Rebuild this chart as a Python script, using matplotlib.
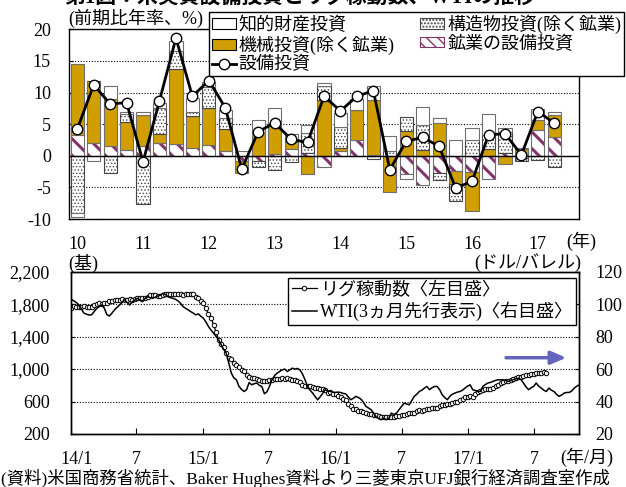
import numpy as np
import pandas as pd
import matplotlib
matplotlib.use("Agg")
import matplotlib.pyplot as plt
import matplotlib.transforms as mtransforms
from matplotlib.patches import Patch
from matplotlib.lines import Line2D

plt.rcParams['font.family'] = ['Liberation Serif', 'Noto Sans CJK JP']
plt.rcParams['font.size'] = 13
plt.rcParams['axes.unicode_minus'] = False

# ---- top panel: quarterly contributions (2010Q1 - 2017Q2), % q/q saar ----
year_labels = ['10', '11', '12', '13', '14', '15', '16', '17']
mining = [3.3, 2.0, 1.6, 0.85, 1.5, 2.0, 1.9, 1.2, 1.7, 0.8, -0.9, -0.9, 0.3, 1.1, 0.5,
          -1.7, 0.7, 2.5, 0.2, 0.0, -2.9, -4.7, -2.7, -2.4, -2.5, -3.7, 0.4, -0.3, 4.1, 2.9]
machinery = [11.2, 9.9, 7.4, 4.55, 4.9, 1.5, 11.8, 5.1, 5.9, 3.4, -1.8, 3.6, 4.9, 1.1, -2.85,
             8.8, 0.5, 4.8, 8.6, -5.8, 3.95, 0.9, 5.15, -2.1, -6.3, 1.05, -1.3, 1.05, 1.5, 3.6]
structures = [-9.05, 0.0, -2.7, 1.2, -7.6, 4.0, 2.9, 0.6, 3.3, 1.85, 0.0, -0.95, -2.3, -1.05, 3.1,
              2.2, 3.4, 0.0, -0.45, 0.8, 2.25, 4.0, -1.2, -2.6, 2.5, 2.3, 3.4, -0.5, -0.6, -1.7]
intellectual = [-0.65, -0.8, 2.05, 0.3, 0.5, 0.9, 1.6, 2.2, 0.7, 1.2, 0.7, 2.1, 2.4, 1.2, 1.3,
                0.5, 2.1, 1.65, 2.2, 2.3, -0.7, 2.8, 0.8, 2.5, 1.85, 3.3, 0.6, 0.15, 1.8, 0.4]
total_capex = [4.2, 11.2, 8.2, 8.4, -0.95, 8.7, 18.6, 9.4, 11.9, 7.6, -2.1, 3.8, 5.2, 2.6, 2.1,
               9.4, 7.1, 9.4, 10.3, -2.2, 2.3, 2.9, 1.5, -5.1, -4.05, 3.3, 3.5, 0.15, 7.0, 5.15]

# ---- bottom panel: weekly rig count (left) and WTI shifted 3 months (right) ----
rig_2014 = [1754, 1776, 1769, 1771, 1769, 1774, 1769, 1769, 1769, 1790, 1803, 1809, 1803,
            1809, 1818, 1835, 1835, 1857, 1857, 1855, 1860, 1855, 1857, 1859, 1857, 1860,
            1875, 1876, 1874, 1877, 1894, 1910, 1908, 1907, 1904, 1904, 1918, 1925, 1931,
            1930, 1925, 1928, 1925, 1924, 1918, 1925, 1927, 1929, 1920, 1893, 1875, 1840]
rig_2015 = [1811, 1750, 1676, 1633, 1543, 1456, 1358, 1310, 1267, 1192, 1140, 1125, 1069,
            1048, 1028, 988, 976, 932, 905, 894, 885, 875, 868, 859, 857, 859,
            863, 866, 872, 876, 874, 884, 883, 885, 877, 864, 862, 848, 838,
            809, 791, 787, 791, 775, 771, 770, 757, 760, 737, 709, 717, 698]
rig_2016 = [698, 664, 654, 637, 619, 571, 541, 514, 502, 489, 480, 476, 464,
            450, 443, 440, 431, 420, 415, 408, 406, 404, 408, 414, 421, 424,
            431, 440, 447, 462, 463, 464, 481, 491, 489, 497, 508, 511, 516, 522,
            524, 539, 553, 557, 569, 568, 588, 593, 597, 624, 637, 653, 658]
rig_2017 = [665, 659, 694, 712, 729, 741, 751, 754, 756, 768, 789, 809, 824,
            839, 847, 857, 870, 877, 885, 901, 908, 916, 927, 933, 941, 940,
            952, 952, 950, 958, 954]

wti_2014 = [103.0, 102.0, 101.0, 99.5, 97.0, 94.4, 93.8, 93.3, 93.5, 95.5, 97.4, 98.5, 99.5,
            97.5, 93.5, 92.7, 94.5, 96.5, 98.0, 99.5, 101.0, 102.6, 101.0, 99.5, 101.5, 102.5,
            103.6, 102.5, 101.5, 103.5, 104.6, 104.0, 103.6, 104.2, 105.0, 105.5, 106.7, 106.0,
            104.6, 104.0, 103.6, 103.0, 102.0, 100.5, 98.5, 97.4, 96.5, 95.4, 94.5, 93.4, 94.0,
            92.5]
wti_2015 = [91.3, 89.0, 86.2, 84.0, 82.1, 80.0, 78.0, 75.0, 72.0, 69.8, 63.7, 57.5, 54.5,
            53.4, 49.3, 47.5, 46.2, 47.3, 51.7, 50.3, 51.0, 51.4, 50.0, 49.3, 44.8, 46.0,
            49.3, 53.4, 56.0, 57.5, 58.5, 59.5, 60.0, 58.5, 59.5, 60.6, 60.0, 60.4, 59.5,
            57.0, 53.4, 49.3, 47.0, 45.2, 43.0, 41.1, 43.0, 45.2, 47.3, 46.5, 46.2, 45.8]
wti_2016 = [45.6, 45.8, 45.6, 45.0, 44.8, 43.0, 41.1, 42.0, 43.2, 42.5, 41.5, 39.5, 37.0,
            36.0, 35.0, 32.9, 30.5, 29.5, 28.8, 29.9, 28.8, 29.5, 32.9, 32.0, 32.9, 35.0,
            37.0, 39.0, 38.5, 38.0, 40.5, 43.2, 44.5, 46.2, 47.0, 48.3, 49.3, 47.3, 48.5, 49.3,
            49.3, 47.3, 44.2, 42.5, 41.1, 43.2, 44.5, 45.2, 45.8, 46.2, 47.0, 48.3, 49.5]
wti_2017 = [50.3, 47.3, 46.8, 46.2, 46.2, 49.3, 50.5, 51.4, 51.8, 52.4, 53.0, 53.4, 53.4,
            53.4, 53.0, 52.4, 53.0, 53.4, 54.0, 54.4, 53.5, 51.4, 49.0, 47.3, 48.5, 49.3,
            51.4, 49.5, 48.3, 47.0, 46.2, 48.3, 47.0, 46.2, 44.5, 43.2, 44.0, 45.2, 45.6,
            45.6, 46.5, 48.3, 49.5, 50.3]

month_ticks = ['2014-01-01', '2014-07-01', '2015-01-01', '2015-07-01',
               '2016-01-01', '2016-07-01', '2017-01-01', '2017-07-01']
month_labels = ['14/1', '7', '15/1', '7', '16/1', '7', '17/1', '7']

GOLD = '#D19E00'
PLUM = '#82346A'
EDGE = '#6E6E6E'

W, H = 626, 487
fig = plt.figure(figsize=(W / 100, H / 100), dpi=100)


def fx(px):
    return px / W


def fy(py):
    return 1 - py / H


# ================= top panel =================
ax1 = fig.add_axes([fx(69), fy(219), fx(579 - 69), (219 - 29.3) / H])
x = np.arange(len(total_capex))
pos = np.zeros(len(x))
neg = np.zeros(len(x))


def stacked(vals, **kw):
    global pos, neg
    vals = np.asarray(vals, dtype=float)
    bottom = np.where(vals >= 0, pos, neg)
    bars = ax1.bar(x, vals, bottom=bottom, width=0.8, zorder=3, **kw)
    pos = pos + np.clip(vals, 0, None)
    neg = neg + np.clip(vals, None, 0)
    return bars


# mining: hatch layer then an outline
m_vals = np.asarray(mining, dtype=float)
m_bottom = np.where(m_vals >= 0, pos, neg)
hb = ax1.bar(x, m_vals, bottom=m_bottom, width=0.8, facecolor='white', edgecolor=PLUM,
             hatch='\\\\', linewidth=0, zorder=3)
for p in hb:
    if hasattr(p, 'set_hatch_linewidth'):
        p.set_hatch_linewidth(2.2)
ax1.bar(x, m_vals, bottom=m_bottom, width=0.8, fill=False, edgecolor=EDGE, linewidth=0.8, zorder=3)
pos = pos + np.clip(m_vals, 0, None)
neg = neg + np.clip(m_vals, None, 0)

stacked(machinery, facecolor=GOLD, edgecolor=EDGE, linewidth=0.8)
sb = stacked(structures, facecolor='white', edgecolor='#444444', hatch='.....', linewidth=0.8)
for p in sb:
    if hasattr(p, 'set_hatch_linewidth'):
        p.set_hatch_linewidth(0.6)
stacked(intellectual, facecolor='white', edgecolor=EDGE, linewidth=0.8)

ax1.plot(x, total_capex, color='black', lw=2, marker='o', ms=7.5, mfc='white', mec='black',
         mew=1, zorder=5)
ax1.axhline(0, color='black', lw=1, zorder=4)

ax1.set_xlim(-0.5, 30.5)
ax1.set_ylim(-10, 20)
ax1.set_yticks(np.arange(-10, 21, 5))
ax1.yaxis.grid(True, linestyle=(0, (1, 1.5)), color='black', lw=0.8)
ax1.set_axisbelow(True)
ax1.set_xticks(np.arange(0, len(year_labels) * 4, 4))
ax1.set_xticklabels(year_labels)
ax1.tick_params(axis='x', length=0, pad=12)
ax1.tick_params(axis='y', direction='in', length=3, pad=13)
for s in ax1.spines.values():
    s.set_linewidth(1)

top_handles = [
    Patch(facecolor='white', edgecolor='black', lw=0.8),
    Patch(facecolor=GOLD, edgecolor='black', lw=0.8),
    Line2D([], [], color='black', lw=2, marker='o', ms=7.5, mfc='white', mec='black'),
    Patch(facecolor='white', edgecolor='#444444', hatch='.....', lw=0.8),
    Patch(facecolor='white', edgecolor=PLUM, hatch='\\\\\\', lw=0.8),
]
top_labels = ['知的財産投資', '機械投資(除く鉱業)', '設備投資', '構造物投資(除く鉱業)', '鉱業の設備投資']
leg1 = ax1.legend(top_handles, top_labels, ncol=2, loc='upper left',
                  bbox_to_anchor=(fx(209), fy(12)), bbox_transform=fig.transFigure,
                  borderaxespad=0, frameon=True, fancybox=False, edgecolor='black',
                  framealpha=1, handlelength=1.35, handleheight=0.5, handletextpad=0.15,
                  labelspacing=0.08, columnspacing=1.4, borderpad=0.15, fontsize=13)
leg1.get_frame().set_linewidth(1)
leg1.set_zorder(10)

fig.text(fx(68), fy(18), '(前期比年率、%)', ha='left', va='center', fontsize=13)
fig.text(fx(566), fy(241), '(年)', ha='left', va='center', fontsize=13)
fig.text(fx(300), 1 + 2 / H, '第1図：米実質設備投資とリグ稼動数、WTIの推移',
         ha='center', va='center', fontsize=15, fontweight='bold')

# ================= bottom panel =================
ax2 = fig.add_axes([fx(70.6), fy(434), fx(579 - 70.6), (434 - 271.7) / H])
ax3 = ax2.twinx()

rig = rig_2014 + rig_2015 + rig_2016 + rig_2017
wti = wti_2014 + wti_2015 + wti_2016 + wti_2017
rig_dates = pd.date_range('2014-01-03', periods=len(rig), freq='W-FRI').to_numpy()
wti_dates = pd.date_range('2014-01-03', periods=len(wti), freq='W-FRI').to_numpy()

ax2.plot(rig_dates, rig, color='black', lw=0.9, marker='o', ms=3.2, mfc='white', mec='black',
         mew=0.7, zorder=3)
ax3.plot(wti_dates, wti, color='black', lw=1.1, zorder=3)

ax2.set_xlim(np.datetime64('2014-01-01'), np.datetime64('2017-11-02'))
ax2.set_ylim(200, 2200)
ax3.set_ylim(20, 120)
left_ticks = np.arange(200, 2201, 400)
ax2.set_yticks(left_ticks)
ax2.set_yticklabels([f'{v:,}' for v in left_ticks])
ax3.set_yticks(np.arange(20, 121, 20))
ax2.yaxis.grid(True, linestyle=(0, (1, 1.5)), color='black', lw=0.8)
ax2.set_xticks(pd.to_datetime(month_ticks).to_numpy())
ax2.set_xticklabels(month_labels)
ax2.tick_params(axis='x', direction='in', length=4, pad=12)
ax2.tick_params(axis='y', direction='in', length=3, pad=15)
ax3.tick_params(axis='y', direction='in', length=3, pad=12)
for a in (ax2, ax3):
    for s in a.spines.values():
        s.set_linewidth(1)

# first month label sits a little right of the axis corner in the reference
first = ax2.get_xticklabels()[0]
first.set_transform(first.get_transform() +
                    mtransforms.ScaledTranslation(6 / 100, 0, fig.dpi_scale_trans))

# arrow pointing to the latest WTI level
ax3.annotate('', xy=(np.datetime64('2017-09-28'), 67), xytext=(np.datetime64('2017-04-15'), 67),
             arrowprops=dict(arrowstyle='-|>,head_length=0.7,head_width=0.3', color='#6464BE',
                             lw=2.5, shrinkA=0, shrinkB=0))

bot_handles = [
    Line2D([], [], color='black', lw=0.9, marker='o', ms=3.2, mfc='white', mec='black', mew=0.7),
    Line2D([], [], color='black', lw=1.1),
]
bot_labels = ['リグ稼動数〈左目盛〉', 'WTI(3ヵ月先行表示)〈右目盛〉']
leg2 = ax3.legend(bot_handles, bot_labels, loc='upper left',
                  bbox_to_anchor=(fx(288), fy(278)), bbox_transform=fig.transFigure,
                  borderaxespad=0, frameon=True, fancybox=False, edgecolor='black',
                  framealpha=1, handlelength=1.4, handletextpad=0.15, labelspacing=0.15,
                  borderpad=0.2, fontsize=13)
leg2.get_frame().set_linewidth(1)

fig.text(fx(68), fy(263), '(基)', ha='left', va='center', fontsize=13)
fig.text(fx(581), fy(263), '(ドル/バレル)', ha='right', va='center', fontsize=13)
fig.text(fx(560), fy(457), '(年/月)', ha='left', va='center', fontsize=13)
fig.text(fx(1), fy(478), '(資料)米国商務省統計、Baker Hughes資料より三菱東京UFJ銀行経済調査室作成',
         ha='left', va='center', fontsize=12.5)

fig.savefig('out.png', dpi=100)
